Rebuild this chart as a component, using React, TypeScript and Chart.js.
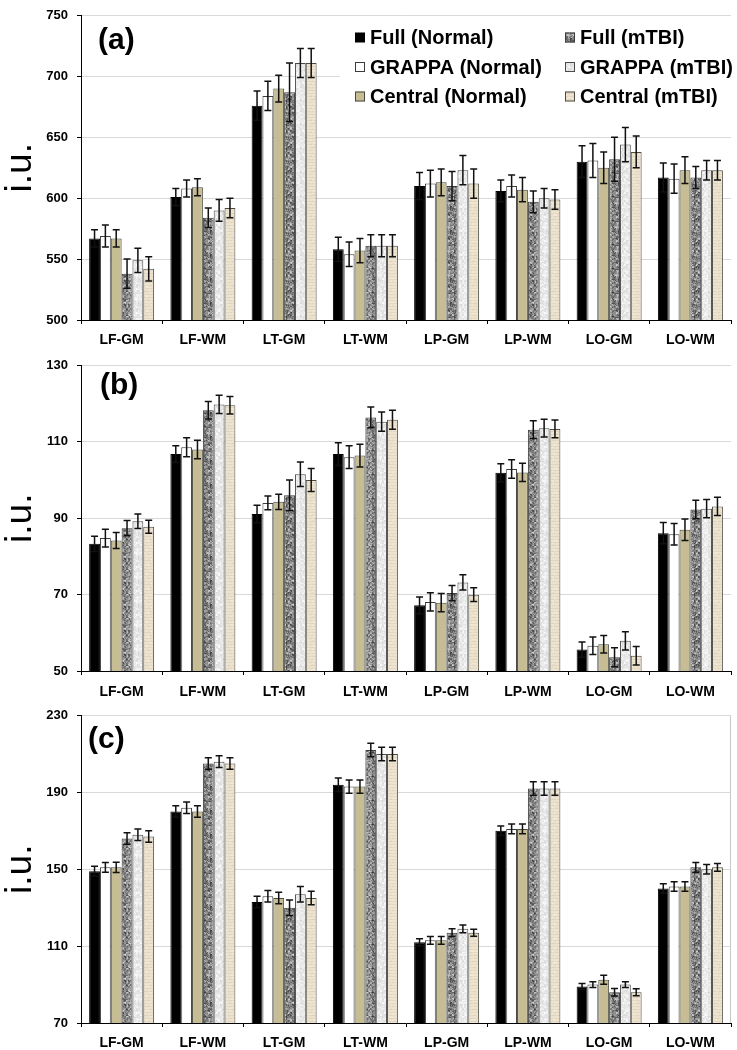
import React, { useEffect, useRef } from "react";
import { Chart, registerables } from "chart.js";

Chart.register(...registerables);
Chart.defaults.font.family = '"Liberation Sans", Arial, sans-serif';

// ---------- data ----------
const categories = ["LF-GM", "LF-WM", "LT-GM", "LT-WM", "LP-GM", "LP-WM", "LO-GM", "LO-WM"];
const seriesNames = [
  "Full (Normal)",
  "GRAPPA (Normal)",
  "Central (Normal)",
  "Full (mTBI)",
  "GRAPPA (mTBI)",
  "Central (mTBI)",
];

// panel (a)
const aFullNormal = [567, 601, 676, 558, 610, 606, 630, 617];
const aGrappaNormal = [569, 608, 684, 554, 612, 610, 631, 616];
const aCentralNormal = [567, 609, 690, 557, 613, 607, 625, 623];
const aFullTBI = [538, 584, 687, 561, 610, 597, 632, 617];
const aGrappaTBI = [549, 590, 711, 561, 623, 600, 644, 623];
const aCentralTBI = [542, 592, 711, 561, 612, 599, 638, 623];
const aErrFullNormal = [7, 7, 12, 10, 11, 9, 13, 12];
const aErrGrappaNormal = [9, 7, 12, 10, 11, 9, 14, 12];
const aErrCentralNormal = [7, 7, 11, 10, 11, 10, 13, 11];
const aErrFullTBI = [12, 8, 24, 9, 12, 9, 18, 9];
const aErrGrappaTBI = [10, 9, 12, 9, 12, 8, 14, 8];
const aErrCentralTBI = [10, 8, 12, 9, 12, 8, 13, 8];
const aTicks = { min: 500, max: 750, step: 50 };

// panel (b)
const bFullNormal = [83.3, 106.8, 91.1, 106.8, 67.2, 101.9, 55.6, 86.1];
const bGrappaNormal = [84.8, 108.6, 94.0, 106.0, 68.1, 102.9, 56.6, 85.8];
const bCentralNormal = [84.2, 108.0, 94.3, 106.4, 67.9, 102.0, 57.0, 87.0];
const bFullTBI = [87.4, 118.3, 96.0, 116.4, 70.4, 113.2, 53.6, 92.3];
const bGrappaTBI = [89.2, 119.8, 101.5, 115.3, 73.2, 113.6, 57.9, 92.5];
const bCentralTBI = [87.8, 119.6, 100.0, 115.8, 70.0, 113.4, 54.0, 93.1];
const bErrFullNormal = [2.0, 2.2, 2.3, 3.0, 2.2, 2.4, 2.0, 2.8];
const bErrGrappaNormal = [2.3, 2.5, 1.8, 3.0, 2.4, 2.4, 2.3, 2.8];
const bErrCentralNormal = [2.1, 2.4, 2.0, 3.0, 2.4, 2.4, 2.3, 2.8];
const bErrFullTBI = [2.0, 2.3, 4.0, 2.7, 2.0, 2.3, 2.5, 2.4];
const bErrGrappaTBI = [1.9, 2.4, 3.2, 2.5, 2.0, 2.3, 2.4, 2.4];
const bErrCentralTBI = [1.7, 2.3, 3.0, 2.5, 1.8, 2.3, 2.4, 2.4];
const bTicks = { min: 50, max: 130, step: 20 };

// panel (c)
const cFullNormal = [149, 180, 133, 194, 112, 170, 89, 140];
const cGrappaNormal = [151, 182, 136, 193, 113, 171, 90, 141];
const cCentralNormal = [151, 180, 135, 193, 113, 171, 92.5, 141];
const cFullTBI = [166, 205, 130, 212, 117, 192, 86, 151];
const cGrappaTBI = [168, 206, 137, 210, 119, 192, 90, 150];
const cCentralTBI = [167, 205, 135, 210, 117, 192, 86, 151];
const cErrFullNormal = [2.5, 3, 3, 3.5, 1.8, 2.5, 1.5, 2.5];
const cErrGrappaNormal = [2.5, 3, 3, 3.5, 2, 2.5, 1.5, 2.5];
const cErrCentralNormal = [2.7, 3, 3, 3.5, 2, 2.5, 2.3, 2.5];
const cErrFullTBI = [3, 3, 4, 3.5, 2, 3.5, 2, 2.5];
const cErrGrappaTBI = [3, 3, 4, 3.5, 2, 3.5, 1.5, 2.5];
const cErrCentralTBI = [3, 3, 3.5, 3.5, 1.8, 3.5, 1.8, 2];
const cTicks = { min: 70, max: 230, step: 40 };

// ---------- textures ----------
function noise(x: number, y: number, s: number): number {
  let h = Math.imul(x + 1, 374761393) ^ Math.imul(y + 1, 668265263) ^ Math.imul(s + 7, 224682251);
  h = Math.imul(h ^ (h >>> 13), 1274126177);
  h ^= h >>> 16;
  return (h >>> 0) / 4294967296;
}

function makeTexture(kind: string): CanvasPattern | string {
  const size = 24;
  const tile = document.createElement("canvas");
  tile.width = size;
  tile.height = size;
  const g = tile.getContext("2d");
  if (!g) return "#999";
  const img = g.createImageData(size, size);
  for (let y = 0; y < size; y++) {
    for (let x = 0; x < size; x++) {
      const n = 0.55 * noise(x >> 1, y >> 1, 1) + 0.45 * noise(x, y, 2);
      let r = 0, gg = 0, b = 0;
      if (kind === "dark") {
        const v = 55 + n * 160;
        r = gg = b = v;
      } else if (kind === "light") {
        const v = 212 + n * 43;
        r = gg = b = v;
      } else {
        const line = y % 3 === 0 ? -12 : 0;
        const d = (n - 0.5) * 14 + line;
        r = 237 + d;
        gg = 227 + d;
        b = 206 + d;
      }
      const i = (y * size + x) * 4;
      img.data[i] = r;
      img.data[i + 1] = gg;
      img.data[i + 2] = b;
      img.data[i + 3] = 255;
    }
  }
  g.putImageData(img, 0, 0);
  return g.createPattern(tile, "repeat") || "#999";
}

function makeFills(): (CanvasPattern | string)[] {
  return ["#000000", "#ffffff", "#c6bd95", makeTexture("dark"), makeTexture("light"), makeTexture("beige")];
}
const borderColors = ["#000000", "#3c3c3c", "#4a4a40", "#3c3c3c", "#4a4a4a", "#4a4a40"];

// ---------- plugins ----------
const errorBarPlugin = {
  id: "errorBars",
  afterDatasetsDraw(chart: any) {
    const { ctx } = chart;
    const ys = chart.scales.y;
    ctx.save();
    ctx.strokeStyle = "#111";
    ctx.lineWidth = 1.5;
    chart.data.datasets.forEach((ds: any, i: number) => {
      const meta = chart.getDatasetMeta(i);
      meta.data.forEach((bar: any, j: number) => {
        const v = ds.data[j];
        const e = ds.errors[j];
        const x = bar.x;
        const yt = ys.getPixelForValue(v + e);
        const yb = ys.getPixelForValue(v - e);
        ctx.beginPath();
        ctx.moveTo(x, yt);
        ctx.lineTo(x, yb);
        ctx.moveTo(x - 3.5, yt);
        ctx.lineTo(x + 3.5, yt);
        ctx.moveTo(x - 3.5, yb);
        ctx.lineTo(x + 3.5, yb);
        ctx.stroke();
      });
    });
    ctx.restore();
  },
};

const decorPlugin = {
  id: "decor",
  afterDraw(chart: any, _args: any, opts: any) {
    const { ctx, chartArea } = chart;
    ctx.save();
    if (opts.frame) {
      ctx.strokeStyle = "#c8c8c8";
      ctx.lineWidth = 1;
      ctx.beginPath();
      ctx.moveTo(chartArea.right - 0.5, chartArea.top);
      ctx.lineTo(chartArea.right - 0.5, chartArea.bottom);
      ctx.stroke();
    }
    // panel label
    ctx.fillStyle = "#000";
    ctx.font = 'bold 30px "Liberation Sans", Arial, sans-serif';
    ctx.textAlign = "left";
    ctx.textBaseline = "middle";
    ctx.fillText(opts.label, chartArea.left + opts.labelDx, chartArea.top + opts.labelDy);

    if (opts.legend) {
      const fills = chart.data.datasets.map((d: any) => d.backgroundColor);
      const borders = chart.data.datasets.map((d: any) => d.borderColor);
      const boxLeft = chartArea.right - 391;
      ctx.fillStyle = "#fff";
      ctx.fillRect(boxLeft, chartArea.top + 6, 390, 94);
      const col0 = chartArea.right - 376;
      const colGap = 210;
      const row0 = chartArea.top + 22;
      const rowGap = 29.5;
      ctx.font = 'bold 20px "Liberation Sans", Arial, sans-serif';
      for (let i = 0; i < 6; i++) {
        const col = i < 3 ? 0 : 1;
        const row = i % 3;
        const x = col0 + col * colGap;
        const y = row0 + row * rowGap;
        ctx.fillStyle = fills[i];
        ctx.fillRect(x, y - 5, 10, 10);
        if (i !== 0) {
          ctx.strokeStyle = borders[i];
          ctx.lineWidth = 1;
          ctx.strokeRect(x + 0.5, y - 4.5, 9, 9);
        }
        ctx.fillStyle = "#000";
        ctx.fillText(chart.data.datasets[i].label, x + 15, y + 1);
      }
    }
    ctx.restore();
  },
};

// ---------- panel ----------
const CANVAS_W = 737;
const CANVAS_H = 350;

type PanelProps = {
  top: number;
  label: string;
  series: number[][];
  errors: number[][];
  ticks: { min: number; max: number; step: number };
  padTop: number;
  plotBottom: number;
  xPad: number;
  labelDx: number;
  labelDy: number;
  legend: boolean;
  frame: boolean;
};

function Panel(p: PanelProps) {
  const ref = useRef<HTMLCanvasElement | null>(null);
  useEffect(() => {
    const canvas = ref.current;
    if (!canvas) return;
    const fills = makeFills();
    const datasets = p.series.map((vals, i) => ({
      label: seriesNames[i],
      data: vals,
      errors: p.errors[i],
      backgroundColor: fills[i],
      borderColor: borderColors[i],
      borderWidth: 1,
      categoryPercentage: 0.8,
      barPercentage: 1.0,
    }));
    const chart = new Chart(canvas, {
      type: "bar",
      data: { labels: categories, datasets: datasets as any },
      options: {
        responsive: false,
        animation: false,
        events: [],
        layout: { padding: { left: 0, right: 6, top: p.padTop, bottom: 0 } },
        plugins: {
          legend: { display: false },
          tooltip: { enabled: false },
          decor: { label: p.label, labelDx: p.labelDx, labelDy: p.labelDy, legend: p.legend, frame: p.frame },
        } as any,
        scales: {
          x: {
            grid: { display: true, drawOnChartArea: false, drawTicks: true, tickLength: 4, tickColor: "#000", offset: true },
            border: { display: true, color: "#000", width: 1 },
            ticks: { color: "#000", font: { size: 14, weight: "bold" }, padding: p.xPad, maxRotation: 0, autoSkip: false },
            afterFit: (s: any) => {
              s.height = CANVAS_H - p.plotBottom;
            },
          },
          y: {
            min: p.ticks.min,
            max: p.ticks.max,
            ticks: { stepSize: p.ticks.step, color: "#000", font: { size: 13, weight: "bold", lineHeight: 1 }, padding: 9 },
            grid: { color: "#d9d9d9", tickColor: "#000", tickLength: 4 },
            border: { display: true, color: "#000", width: 1 },
            title: {
              display: true,
              text: "i.u.",
              color: "#000",
              font: { size: 37, weight: "normal", lineHeight: 1 },
              padding: { top: 2, bottom: 0 },
            },
            afterFit: (s: any) => {
              s.width = 81;
            },
          },
        },
      } as any,
      plugins: [errorBarPlugin, decorPlugin],
    });
    return () => chart.destroy();
  }, []);
  return (
    <canvas
      ref={ref}
      width={CANVAS_W}
      height={CANVAS_H}
      style={{ position: "absolute", left: 0, top: p.top, display: "block", width: CANVAS_W, height: CANVAS_H }}
    />
  );
}

export default function App() {
  return (
    <div style={{ position: "absolute", left: 0, top: 0, width: CANVAS_W, height: 1050, background: "#fff", overflow: "hidden" }}>
      <Panel
        top={0}
        label="(a)"
        series={[aFullNormal, aGrappaNormal, aCentralNormal, aFullTBI, aGrappaTBI, aCentralTBI]}
        errors={[aErrFullNormal, aErrGrappaNormal, aErrCentralNormal, aErrFullTBI, aErrGrappaTBI, aErrCentralTBI]}
        ticks={aTicks}
        padTop={6}
        plotBottom={320}
        xPad={8}
        labelDx={17}
        labelDy={25}
        legend={true}
        frame={false}
      />
      <Panel
        top={350}
        label="(b)"
        series={[bFullNormal, bGrappaNormal, bCentralNormal, bFullTBI, bGrappaTBI, bCentralTBI]}
        errors={[bErrFullNormal, bErrGrappaNormal, bErrCentralNormal, bErrFullTBI, bErrGrappaTBI, bErrCentralTBI]}
        ticks={bTicks}
        padTop={9}
        plotBottom={321}
        xPad={9}
        labelDx={19}
        labelDy={20}
        legend={false}
        frame={false}
      />
      <Panel
        top={700}
        label="(c)"
        series={[cFullNormal, cGrappaNormal, cCentralNormal, cFullTBI, cGrappaTBI, cCentralTBI]}
        errors={[cErrFullNormal, cErrGrappaNormal, cErrCentralNormal, cErrFullTBI, cErrGrappaTBI, cErrCentralTBI]}
        ticks={cTicks}
        padTop={10}
        plotBottom={323}
        xPad={8}
        labelDx={7}
        labelDy={24}
        legend={false}
        frame={true}
      />
    </div>
  );
}
